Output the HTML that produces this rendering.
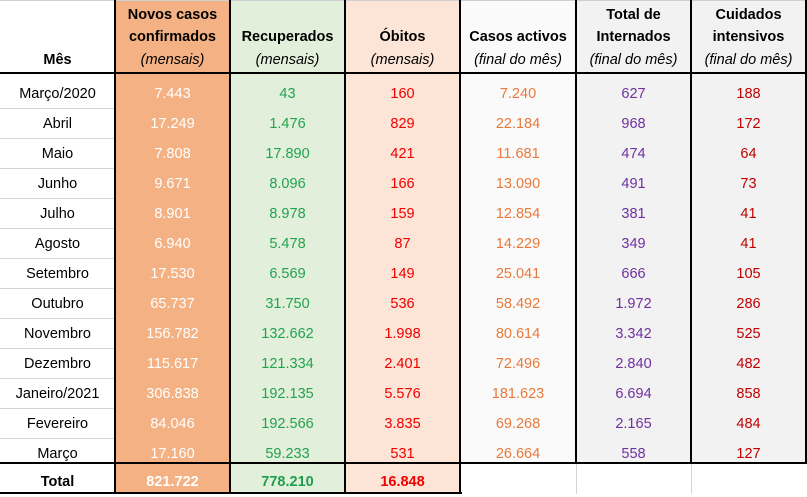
<!DOCTYPE html>
<html><head><meta charset="utf-8"><style>
body{margin:0;width:807px;height:494px;background:#fff;font-family:"Liberation Sans",sans-serif;position:relative;overflow:hidden}
.c{position:absolute;top:0;height:494px}
.t{position:absolute;text-align:center;font-size:14.5px;line-height:22px}
.v{position:absolute;line-height:30px;text-align:center;font-size:14.5px}
.b{font-weight:bold}
.i{font-style:italic}
.vl{position:absolute;top:0;width:2px;height:494px;background:#000}
.hl{position:absolute;left:0;width:807px;height:2px;background:#000}
.g{position:absolute;left:0;width:115px;height:1px;background:#d4d4d4}
</style></head><body>
<div class="c" style="left:115px;width:115px;background:#f4b183"></div>
<div class="c" style="left:230px;width:115px;background:#e2efda"></div>
<div class="c" style="left:345px;width:115px;background:#fce4d6"></div>
<div class="c" style="left:460px;width:116px;top:0;height:463px;background:#fafafa"></div>
<div class="c" style="left:576px;width:230px;top:0;height:463px;background:#f2f2f2"></div>
<div style="position:absolute;left:0;top:0;width:807px;height:1px;background:#cfcfcf"></div>
<div style="position:absolute;left:460px;top:463px;width:347px;height:31px;background:#fff"></div>
<div style="position:absolute;left:576px;top:463px;width:1px;height:31px;background:#d4d4d4"></div>
<div style="position:absolute;left:691px;top:463px;width:1px;height:31px;background:#d4d4d4"></div>

<div class="t b" style="left:0;width:115px;top:49px">Mês</div>
<div class="t b" style="left:115px;width:115px;top:4px">Novos casos<br>confirmados</div>
<div class="t i" style="left:115px;width:115px;top:49px">(mensais)</div>
<div class="t b" style="left:230px;width:115px;top:26px">Recuperados</div>
<div class="t i" style="left:230px;width:115px;top:49px">(mensais)</div>
<div class="t b" style="left:345px;width:115px;top:26px">Óbitos</div>
<div class="t i" style="left:345px;width:115px;top:49px">(mensais)</div>
<div class="t b" style="left:460px;width:116px;top:26px">Casos activos</div>
<div class="t i" style="left:460px;width:116px;top:49px">(final do mês)</div>
<div class="t b" style="left:576px;width:115px;top:4px">Total de<br>Internados</div>
<div class="t i" style="left:576px;width:115px;top:49px">(final do mês)</div>
<div class="t b" style="left:691px;width:115px;top:4px">Cuidados<br>intensivos</div>
<div class="t i" style="left:691px;width:115px;top:49px">(final do mês)</div>

<div id="rows"></div>
<script>
var d=[["Março/2020","7.443","43","160","7.240","627","188"],["Abril","17.249","1.476","829","22.184","968","172"],["Maio","7.808","17.890","421","11.681","474","64"],["Junho","9.671","8.096","166","13.090","491","73"],["Julho","8.901","8.978","159","12.854","381","41"],["Agosto","6.940","5.478","87","14.229","349","41"],["Setembro","17.530","6.569","149","25.041","666","105"],["Outubro","65.737","31.750","536","58.492","1.972","286"],["Novembro","156.782","132.662","1.998","80.614","3.342","525"],["Dezembro","115.617","121.334","2.401","72.496","2.840","482"],["Janeiro/2021","306.838","192.135","5.576","181.623","6.694","858"],["Fevereiro","84.046","192.566","3.835","69.268","2.165","484"],["Março","17.160","59.233","531","26.664","558","127"]];
var L=[0,115,230,345,460,576,691],W=[115,115,115,115,116,115,115],C=["#000","#fff","#22a34f","#f00000","#e8793a","#7030a0","#c00000"],h="";
d.forEach(function(r,k){var y=79+30*k;r.forEach(function(v,j){h+='<div class="v" style="left:'+L[j]+'px;width:'+W[j]+'px;top:'+y+'px;color:'+C[j]+'">'+v+'</div>'});if(k>0)h+='<div class="g" style="top:'+(y-1)+'px"></div>'});
var T=["Total","821.722","778.210","16.848"];
T.forEach(function(v,j){h+='<div class="v b" style="left:'+L[j]+'px;width:'+W[j]+'px;top:467px;color:'+(j==0?"#000":j==2?"#1e9e4a":j==3?"#f00000":"#fff")+'">'+v+'</div>'});
document.getElementById("rows").innerHTML=h;
</script>
<div class="hl" style="top:72px"></div>
<div class="hl" style="top:462px;width:462px"></div>
<div class="hl" style="top:492px;width:462px"></div>
<div class="vl" style="left:114px"></div>
<div class="vl" style="left:229px"></div>
<div class="vl" style="left:344px"></div>
<div class="vl" style="left:459px"></div>
<div class="vl" style="left:575px;height:463px"></div>
<div class="vl" style="left:690px;height:463px"></div>
<div class="vl" style="left:805px;height:463px"></div>
<div class="hl" style="top:462px;left:460px;width:347px"></div>
</body></html>
